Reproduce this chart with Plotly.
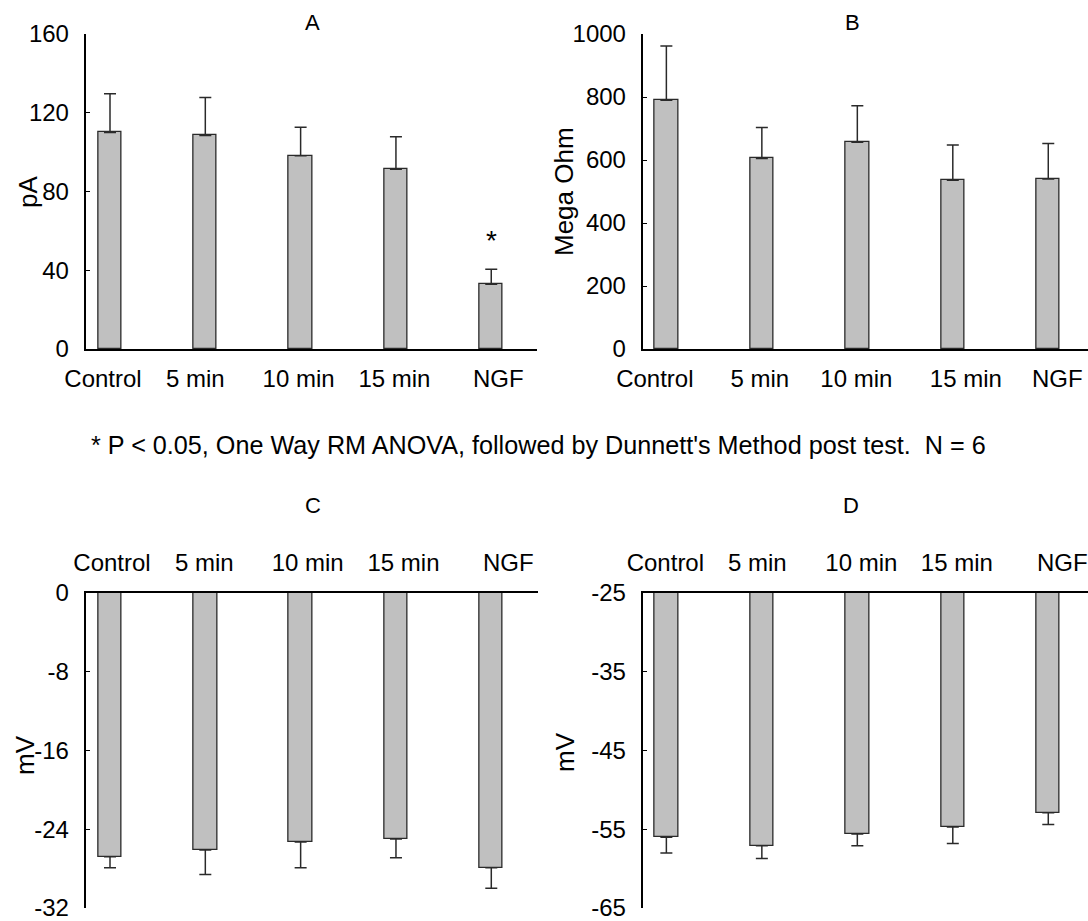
import plotly.graph_objects as go

categories = ["Control", "5 min", "10 min", "15 min", "NGF"]

A_mean = [110.0, 108.5, 98.2, 91.3, 32.9]
A_sem = [19.6, 19.2, 14.4, 16.5, 7.6]
A_ticks = [0, 40, 80, 120, 160]

B_mean = [790, 605, 656, 536, 540]
B_sem = [172, 98, 116, 112, 112]
B_ticks = [0, 200, 400, 600, 800, 1000]

C_mean = [-26.8, -26.1, -25.3, -25.0, -27.9]
C_sem = [1.1, 2.5, 2.6, 1.9, 2.1]
C_ticks = [0, -8, -16, -24, -32]

D_base = -25
D_mean = [-56.0, -57.1, -55.6, -54.7, -52.9]
D_sem = [2.0, 1.6, 1.5, 2.1, 1.5]
D_ticks = [-25, -35, -45, -55, -65]

# horizontal nudges (px) of the category labels relative to the bars, as in the original
LABEL_NUDGE_A = [-7, -10, -2, -1.5, 7]
LABEL_NUDGE_B = [-11.5, -2, -1, 13, 9]
LABEL_NUDGE_C = [2, -1, 7, 7.5, 17]
LABEL_NUDGE_D = [-1, -4.5, 4, 4, 14]
SLOT_PX = 95.3

W, H = 1088, 921
FONT = "Liberation Sans, Arial, sans-serif"
BAR_FILL = "#c0c0c0"
BAR_LINE = "#2a2a2a"
xpos = list(range(len(categories)))


def px(x):
    return x / W


def py(y):
    return 1 - y / H


fig = go.Figure()

common_bar = dict(
    marker=dict(color=BAR_FILL, line=dict(color=BAR_LINE, width=1.3)),
    width=0.245,
    showlegend=False,
)

fig.add_trace(go.Bar(
    x=xpos, y=A_mean, xaxis="x", yaxis="y",
    error_y=dict(type="data", symmetric=False, array=A_sem, arrayminus=[0] * 5,
                 color=BAR_LINE, thickness=1.5, width=6),
    **common_bar))

fig.add_trace(go.Bar(
    x=xpos, y=B_mean, xaxis="x2", yaxis="y2",
    error_y=dict(type="data", symmetric=False, array=B_sem, arrayminus=[0] * 5,
                 color=BAR_LINE, thickness=1.5, width=6),
    **common_bar))

fig.add_trace(go.Bar(
    x=xpos, y=C_mean, xaxis="x3", yaxis="y3",
    error_y=dict(type="data", symmetric=False, array=[0] * 5, arrayminus=C_sem,
                 color=BAR_LINE, thickness=1.5, width=6),
    **common_bar))

fig.add_trace(go.Bar(
    x=xpos, y=[v - D_base for v in D_mean], base=D_base, xaxis="x4", yaxis="y4",
    error_y=dict(type="data", symmetric=False, array=[0] * 5, arrayminus=D_sem,
                 color=BAR_LINE, thickness=1.5, width=6),
    **common_bar))

tickfont = dict(family=FONT, size=24, color="black")


def xax(domain, rng, nudge, side="bottom", anchor="y"):
    return dict(domain=domain, range=rng,
                tickvals=[i + n / SLOT_PX for i, n in zip(xpos, nudge)],
                ticktext=categories,
                showline=True, linecolor="black", linewidth=1.5, ticks="",
                showgrid=False, zeroline=False, side=side, anchor=anchor,
                tickfont=tickfont, ticklabelstandoff=7 if side == "bottom" else 11,
                fixedrange=True, automargin=False, ticklabeloverflow="allow")


def yax(domain, rng, ticks, anchor):
    return dict(domain=domain, range=rng, tickvals=ticks,
                ticktext=[str(t) for t in ticks],
                showline=True, linecolor="black", linewidth=1.5,
                ticks="inside", ticklen=5, tickcolor="black", tickwidth=1.2,
                showgrid=False, zeroline=False, anchor=anchor,
                tickfont=tickfont, ticklabelstandoff=10, fixedrange=True,
                automargin=False, ticklabeloverflow="allow")


top_dom = [py(349), py(34)]
bot_dom = [py(908), py(593)]
left_xA = [px(85.5), px(537)]
left_xC = [px(85.5), px(538)]
right_x = [px(642.5), 1.0]

fig.update_layout(
    width=W, height=H,
    margin=dict(l=0, r=0, t=0, b=0, autoexpand=False),
    paper_bgcolor="white", plot_bgcolor="white",
    font=dict(family=FONT, color="black"),
    bargap=0,
    xaxis=xax(left_xA, [-0.257, 4.48], LABEL_NUDGE_A, anchor="y"),
    yaxis=yax(top_dom, [0, 160], A_ticks, "x"),
    xaxis2=xax(right_x, [-0.25, 4.416], LABEL_NUDGE_B, anchor="y2"),
    yaxis2=yax(top_dom, [0, 1000], B_ticks, "x2"),
    xaxis3=xax(left_xC, [-0.257, 4.49], LABEL_NUDGE_C, side="top", anchor="y3"),
    yaxis3=yax(bot_dom, [-32, 0], C_ticks, "x3"),
    xaxis4=xax(right_x, [-0.25, 4.416], LABEL_NUDGE_D, side="top", anchor="y4"),
    yaxis4=yax(bot_dom, [-65, -25], D_ticks, "x4"),
)

ann = []


def label(text, x, y, size, angle=0):
    ann.append(dict(text=text, x=px(x), y=py(y), xref="paper", yref="paper",
                    showarrow=False, textangle=angle, xanchor="center", yanchor="middle",
                    font=dict(family=FONT, size=size, color="black")))


label("A", 312, 22, 22)
label("B", 852, 22, 22)
label("C", 313, 505, 22)
label("D", 851, 505, 22)
label("pA", 28, 192, 26, -90)
label("Mega Ohm", 564, 192, 26, -90)
label("mV", 25, 755, 26, -90)
label("mV", 565, 752, 26, -90)
label("* P < 0.05, One Way RM ANOVA, followed by Dunnett's Method post test.\u00a0\u00a0N = 6",
      538, 445, 25.2)

ann.append(dict(text="*", x=4, y=55, xref="x", yref="y", showarrow=False,
                font=dict(family=FONT, size=28, color="black")))

fig.update_layout(annotations=ann)

fig.write_html("out.html")
